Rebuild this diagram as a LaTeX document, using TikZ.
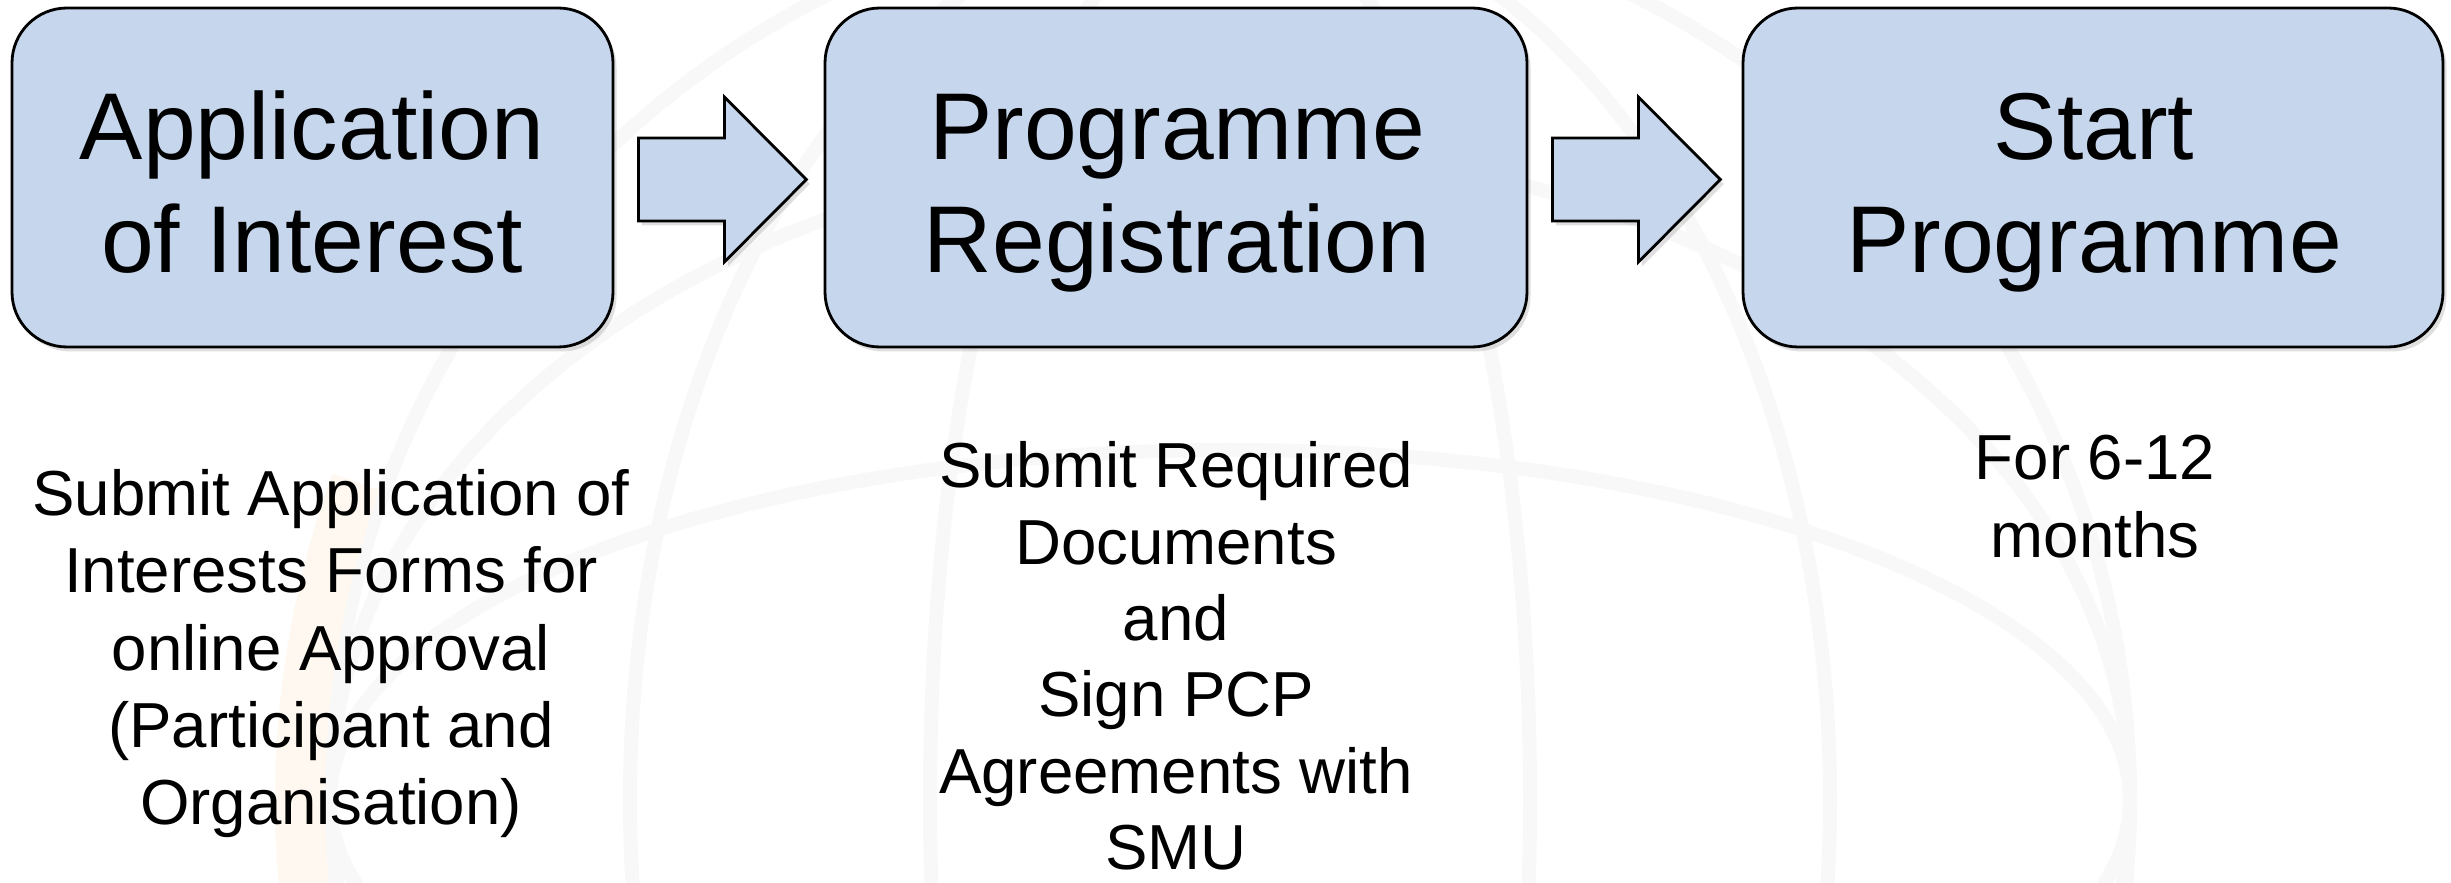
\documentclass[tikz,border=0pt]{standalone}
\usepackage{fontspec}
\setmainfont{Liberation Sans}
\usetikzlibrary{shadows,calc}
\definecolor{boxfill}{RGB}{198,214,236}
\definecolor{wmgray}{RGB}{248,248,248}
\definecolor{wmorange}{RGB}{254,248,240}
\begin{document}
\begin{tikzpicture}[x=0.1mm,y=-0.1mm,
  box/.style={draw=black, line width=0.8pt, fill=boxfill, rounded corners=5.5mm,
    minimum height=33.9mm, inner sep=0pt,
    drop shadow={shadow xshift=0.35mm, shadow yshift=-0.45mm, opacity=0.25}},
  blockarrow/.style={draw=black, line width=0.8pt, fill=boxfill, line join=miter,
    drop shadow={shadow xshift=0.35mm, shadow yshift=-0.45mm, opacity=0.25}},
  title/.style={anchor=base, inner sep=0pt, font=\fontsize{27}{32}\selectfont},
  note/.style={anchor=base, inner sep=0pt, font=\fontsize{18.1}{22}\selectfont},
  wm/.style={draw=wmgray, line width=1.4mm}]
\useasboundingbox (0,0) rectangle (2451,883);
\fill[white] (0,0) rectangle (2451,883);
% faint watermark globe
\begin{scope}
  \clip (0,0) rectangle (2451,883);
  \draw[wm] (1230,800) circle (900);
  \draw[wm] (1230,800) ellipse (600 and 900);
  \draw[wm] (1230,800) ellipse (300 and 900);
  \draw[wm] (1230,800) ellipse (900 and 350);
  \draw[wm] (1230,800) ellipse (900 and 650);
  \draw[draw=wmorange, line width=5mm] (1230,800) ++(200:930) arc (200:160:930);
\end{scope}
% boxes
\node[box, minimum width=60.1mm] (b1) at (312.5,177.5) {};
\node[box, minimum width=70.2mm] (b2) at (1176,177.5) {};
\node[box, minimum width=70.0mm] (b3) at (2093,177.5) {};
% block arrows
\coordinate (a1) at ($(b1.east)+(24,2)$);
\coordinate (a2) at ($(b2.east)+(24,2)$);
\foreach \a in {a1,a2}{
  \draw[blockarrow] (\a) ++(0,-41.5) -- ++(86,0) -- ++(0,-41) -- ++(82,82.5)
    -- ++(-82,82.5) -- ++(0,-41) -- ++(-86,0) -- cycle;
}
% box titles
\node[title] (t1a) at (312,160) {Application};
\node[title] (t1b) at (312,273) {of Interest};
\node[title] (t2a) at (1177,160) {Programme};
\node[title] (t2b) at (1177,273) {Registration};
\node[title] (t3a) at (2094,160) {Start};
\node[title] (t3b) at (2094,273) {Programme};
% notes
\node[note] (n1a) at (331,516) {Submit Application of};
\node[note] (n1b) at (331,593) {Interests Forms for};
\node[note] (n1c) at (331,670) {online Approval};
\node[note] (n1d) at (331,747) {(Participant and};
\node[note] (n1e) at (331,824) {Organisation)};
\node[note] (n2a) at (1176,488) {Submit Required};
\node[note] (n2b) at (1176,564) {Documents};
\node[note] (n2c) at (1176,640) {and};
\node[note] (n2d) at (1176,716.5) {Sign PCP};
\node[note] (n2e) at (1176,793) {Agreements with};
\node[note] (n2f) at (1176,869) {SMU};
\node[note] (n3a) at (2095,480) {For 6-12};
\node[note] (n3b) at (2095,557) {months};
\end{tikzpicture}
\end{document}
